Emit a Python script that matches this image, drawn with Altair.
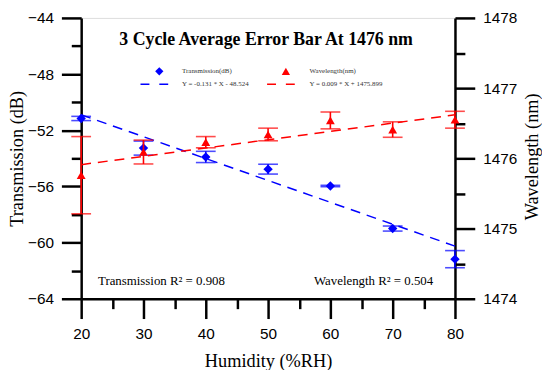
import altair as alt
import pandas as pd

# ---------------- data ----------------
humidity = [20, 30, 40, 50, 60, 70, 80]
trans_mean = [-51.16, -53.27, -53.90, -54.77, -55.97, -59.00, -61.18]
trans_err = [0.15, 0.50, 0.40, 0.35, 0.05, 0.18, 0.61]
wave_mean = [1475.76, 1476.09, 1476.23, 1476.34, 1476.54, 1476.41, 1476.55]
wave_err = [0.55, 0.17, 0.08, 0.09, 0.12, 0.11, 0.12]

fit_x = [20, 80]
trans_fit = [-50.90, -60.25]
wave_fit = [1475.91, 1476.62]

x_major = [20, 30, 40, 50, 60, 70, 80]
x_minor = [25, 35, 45, 55, 65, 75]
trans_major = [-64, -60, -56, -52, -48, -44]
trans_minor = [-62, -58, -54, -50, -46]
wave_major = [1474, 1475, 1476, 1477, 1478]
wave_minor = [1474.5, 1475.5, 1476.5, 1477.5]

title_text = "3 Cycle Average Error Bar At 1476 nm"
legend_labels = ["Transmission(dB)", "Wavelength(nm)",
                 "Y = -0.131 * X - 48.524", "Y = 0.009 * X + 1475.899"]
r2_labels = ["Transmission R\u00b2 = 0.908", "Wavelength R\u00b2 = 0.504"]

# ---------------- tables ----------------
trans_df = pd.DataFrame({"h": humidity, "m": trans_mean, "e": trans_err})
trans_df["lo"] = trans_df["m"] - trans_df["e"]
trans_df["hi"] = trans_df["m"] + trans_df["e"]
trans_caps = pd.concat([
    pd.DataFrame({"h": trans_df["h"], "v": trans_df["lo"]}),
    pd.DataFrame({"h": trans_df["h"], "v": trans_df["hi"]}),
])
wave_df = pd.DataFrame({"h": humidity, "m": wave_mean, "e": wave_err})
wave_df["lo"] = wave_df["m"] - wave_df["e"]
wave_df["hi"] = wave_df["m"] + wave_df["e"]
wave_caps = pd.concat([
    pd.DataFrame({"h": wave_df["h"], "v": wave_df["lo"]}),
    pd.DataFrame({"h": wave_df["h"], "v": wave_df["hi"]}),
])
trans_fit_df = pd.DataFrame({"h": fit_x, "v": trans_fit})
wave_fit_df = pd.DataFrame({"h": fit_x, "v": wave_fit})

SERIF = "Liberation Serif"
SANS = "Liberation Sans"
BLUE = "#0000ff"
RED = "#ff0000"

xs = alt.Scale(domain=[20, 80], nice=False, zero=False)
ts = alt.Scale(domain=[-64, -44], nice=False, zero=False)
ws = alt.Scale(domain=[1474, 1478], nice=False, zero=False)

BASE = dict(domainColor="black", domainWidth=2.5, tickColor="black", tickWidth=2.5,
            labelFont=SANS, labelFontSize=15.5, labelColor="black", grid=False,
            titleFont=SERIF, titleFontSize=18.5, titleFontWeight="normal",
            titleColor="black", labelFlush=False, labelOverlap=False)
AX = dict(BASE, labelPadding=8)

x_major_axis = alt.Axis(values=x_major, tickSize=20, orient="bottom", format="d",
                        title="Humidity (%RH)", titleY=68, titleBaseline="alphabetic", **AX)
x_minor_axis = alt.Axis(values=x_minor, tickSize=10, orient="bottom", labels=False,
                        domain=False, title="", **BASE)
t_major_axis = alt.Axis(values=trans_major, tickSize=20, orient="left", format="d",
                        title="Transmission (dB)", titleX=-65, titleY=142,
                        titleBaseline="middle", titleAngle=270, **AX)
t_minor_axis = alt.Axis(values=trans_minor, tickSize=10, orient="left", labels=False,
                        domain=False, title="", **BASE)
w_major_axis = alt.Axis(values=wave_major, tickSize=20, orient="right", format="d",
                        title="Wavelength (nm)", titleX=77, titleY=140,
                        titleBaseline="middle", titleAngle=270, **AX)
w_minor_axis = alt.Axis(values=wave_minor, tickSize=10, orient="right", labels=False,
                        domain=False, title="", **BASE)

# ---------------- transmission layers ----------------
t_bars = alt.Chart(trans_df).mark_rule(color=BLUE, strokeWidth=1.6).encode(
    x=alt.X("h:Q", scale=xs, axis=x_major_axis),
    y=alt.Y("lo:Q", scale=ts, axis=t_major_axis),
    y2="hi:Q",
)
t_caps = alt.Chart(trans_caps).mark_tick(color=BLUE, orient="horizontal", size=20, thickness=1.6).encode(
    x=alt.X("h:Q", scale=xs, axis=x_minor_axis),
    y=alt.Y("v:Q", scale=ts, axis=t_minor_axis),
)
t_pts = alt.Chart(trans_df).mark_point(shape="diamond", filled=True, color=BLUE, size=90, opacity=1).encode(
    x=alt.X("h:Q", scale=xs, axis=None),
    y=alt.Y("m:Q", scale=ts, axis=None),
)
t_fit = alt.Chart(trans_fit_df).mark_line(color=BLUE, strokeWidth=1.5, strokeDash=[10, 7]).encode(
    x=alt.X("h:Q", scale=xs, axis=None),
    y=alt.Y("v:Q", scale=ts, axis=None),
)

# ---------------- wavelength layers ----------------
w_bars = alt.Chart(wave_df).mark_rule(color=RED, strokeWidth=1.6).encode(
    x=alt.X("h:Q", scale=xs, axis=None),
    y=alt.Y("lo:Q", scale=ws, axis=w_major_axis),
    y2="hi:Q",
)
w_caps = alt.Chart(wave_caps).mark_tick(color=RED, orient="horizontal", size=20, thickness=1.6).encode(
    x=alt.X("h:Q", scale=xs, axis=None),
    y=alt.Y("v:Q", scale=ws, axis=w_minor_axis),
)
w_pts = alt.Chart(wave_df).mark_point(shape="triangle-up", filled=True, color=RED, size=80, opacity=1).encode(
    x=alt.X("h:Q", scale=xs, axis=None),
    y=alt.Y("m:Q", scale=ws, axis=None),
)
w_fit = alt.Chart(wave_fit_df).mark_line(color=RED, strokeWidth=1.5, strokeDash=[10, 7]).encode(
    x=alt.X("h:Q", scale=xs, axis=None),
    y=alt.Y("v:Q", scale=ws, axis=None),
)

# ---------------- annotations ----------------
one = pd.DataFrame({"k": [0]})

title = alt.Chart(pd.DataFrame({"t": [title_text]})).mark_text(
    font=SERIF, fontSize=18, fontWeight="bold", color="black", align="center", baseline="alphabetic"
).encode(text="t:N", x=alt.value(187), y=alt.value(27))

def leg_text(s, x, y):
    return alt.Chart(pd.DataFrame({"t": [s]})).mark_text(
        font=SERIF, fontSize=7, color="#333333", align="left", baseline="middle"
    ).encode(text="t:N", x=alt.value(x), y=alt.value(y))

leg_t1 = leg_text(legend_labels[0], 102, 54)
leg_t2 = leg_text(legend_labels[1], 231, 54)
leg_t3 = leg_text(legend_labels[2], 102, 67)
leg_t4 = leg_text(legend_labels[3], 231, 67)

leg_d = alt.Chart(one).mark_point(shape="diamond", filled=True, color=BLUE, size=70, opacity=1).encode(
    x=alt.value(79), y=alt.value(54))
leg_tri = alt.Chart(one).mark_point(shape="triangle-up", filled=True, color=RED, size=70, opacity=1).encode(
    x=alt.value(207), y=alt.value(54))
leg_l1 = alt.Chart(one).mark_rule(color=BLUE, strokeWidth=1.5, strokeDash=[9, 10]).encode(
    x=alt.value(60), x2=alt.value(89), y=alt.value(67))
leg_l2 = alt.Chart(one).mark_rule(color=RED, strokeWidth=1.5, strokeDash=[9, 10]).encode(
    x=alt.value(188), x2=alt.value(217), y=alt.value(67))

r2_left = alt.Chart(pd.DataFrame({"t": [r2_labels[0]]})).mark_text(
    font=SERIF, fontSize=13, color="black", align="left", baseline="alphabetic"
).encode(text="t:N", x=alt.value(17), y=alt.value(270))
r2_right = alt.Chart(pd.DataFrame({"t": [r2_labels[1]]})).mark_text(
    font=SERIF, fontSize=13, color="black", align="right", baseline="alphabetic"
).encode(text="t:N", x=alt.value(356), y=alt.value(270))

chart = alt.layer(
    t_bars, t_caps, t_fit, t_pts,
    w_bars, w_caps, w_fit, w_pts,
    title, leg_d, leg_tri, leg_l1, leg_l2, leg_t1, leg_t2, leg_t3, leg_t4,
    r2_left, r2_right,
).resolve_scale(
    y="independent"
).resolve_axis(
    x="independent", y="independent"
).properties(
    width=378, height=284,
    autosize=alt.AutoSizeParams(type="none"),
    padding={"left": 74, "top": 8, "right": 88, "bottom": 70},
).configure_view(
    stroke="black", strokeWidth=2.5
).configure(background="white")

chart.save("out.html", embed_options={"renderer": "svg", "actions": False})
